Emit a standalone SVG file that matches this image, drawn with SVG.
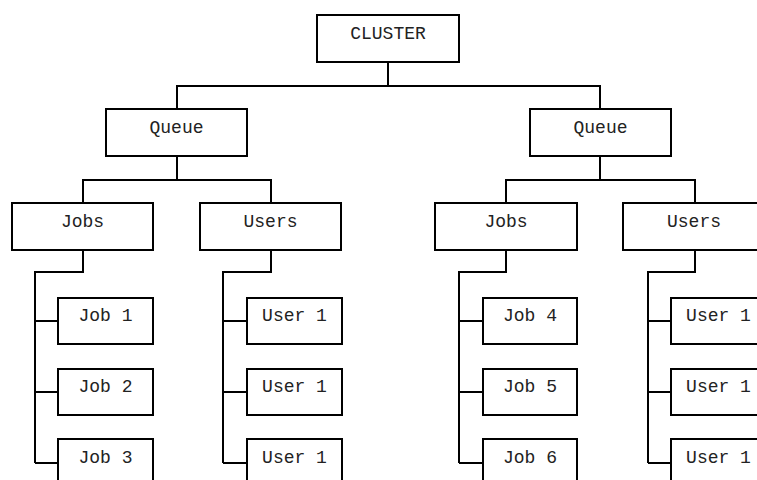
<svg xmlns="http://www.w3.org/2000/svg" width="757" height="480" viewBox="0 0 757 480">
  <style>
    .box { fill: #ffffff; stroke: #000000; stroke-width: 2; }
    .wire { fill: none; stroke: #000000; stroke-width: 2; }
    .lbl { font-family: "Liberation Mono", "Courier New", monospace; font-size: 18px; fill: #222222; text-anchor: middle; }
  </style>
  <rect width="757" height="480" fill="#ffffff"/>

  <g id="connectors">
    <!-- root to queues -->
    <path class="wire" d="M388,62 V86 M177,109 V86 H600 V109"/>
    <!-- left queue to Jobs/Users -->
    <path class="wire" d="M177,156 V180 M83,203 V180 H271 V203"/>
    <!-- right queue to Jobs/Users -->
    <path class="wire" d="M600,156 V180 M506,203 V180 H695 V203"/>
    <!-- left Jobs list -->
    <path class="wire" d="M83,250 V272 H35 V463 M35,321 H58 M35,392 H58 M35,463 H58"/>
    <!-- left Users list -->
    <path class="wire" d="M271,250 V272 H223 V463 M223,321 H247 M223,392 H247 M223,463 H247"/>
    <!-- right Jobs list -->
    <path class="wire" d="M506,250 V272 H459 V463 M459,321 H483 M459,392 H483 M459,463 H483"/>
    <!-- right Users list -->
    <path class="wire" d="M695,250 V272 H648 V463 M648,321 H671 M648,392 H671 M648,463 H671"/>
  </g>

  <g id="cluster"><rect class="box" x="317" y="15" width="142" height="47"/><text class="lbl" x="388" y="39">CLUSTER</text></g>

  <g id="queue-left"><rect class="box" x="106" y="109" width="141" height="47"/><text class="lbl" x="176.5" y="133">Queue</text></g>
  <g id="queue-right"><rect class="box" x="530" y="109" width="141" height="47"/><text class="lbl" x="600.5" y="133">Queue</text></g>

  <g id="jobs-left"><rect class="box" x="12" y="203" width="141" height="47"/><text class="lbl" x="82.5" y="227">Jobs</text></g>
  <g id="users-left"><rect class="box" x="200" y="203" width="141" height="47"/><text class="lbl" x="270.5" y="227">Users</text></g>
  <g id="jobs-right"><rect class="box" x="435" y="203" width="142" height="47"/><text class="lbl" x="506" y="227">Jobs</text></g>
  <g id="users-right"><rect class="box" x="623" y="203" width="142" height="47"/><text class="lbl" x="694" y="227">Users</text></g>

  <g id="job1"><rect class="box" x="58" y="298" width="95" height="46"/><text class="lbl" x="105.5" y="321">Job 1</text></g>
  <g id="job2"><rect class="box" x="58" y="369" width="95" height="46"/><text class="lbl" x="105.5" y="392">Job 2</text></g>
  <g id="job3"><rect class="box" x="58" y="439" width="95" height="46"/><text class="lbl" x="105.5" y="463">Job 3</text></g>

  <g id="user1-a"><rect class="box" x="247" y="298" width="95" height="46"/><text class="lbl" x="294.5" y="321">User 1</text></g>
  <g id="user1-b"><rect class="box" x="247" y="369" width="95" height="46"/><text class="lbl" x="294.5" y="392">User 1</text></g>
  <g id="user1-c"><rect class="box" x="247" y="439" width="95" height="46"/><text class="lbl" x="294.5" y="463">User 1</text></g>

  <g id="job4"><rect class="box" x="483" y="298" width="94" height="46"/><text class="lbl" x="530" y="321">Job 4</text></g>
  <g id="job5"><rect class="box" x="483" y="369" width="94" height="46"/><text class="lbl" x="530" y="392">Job 5</text></g>
  <g id="job6"><rect class="box" x="483" y="439" width="94" height="46"/><text class="lbl" x="530" y="463">Job 6</text></g>

  <g id="user1-d"><rect class="box" x="671" y="298" width="95" height="46"/><text class="lbl" x="718.5" y="321">User 1</text></g>
  <g id="user1-e"><rect class="box" x="671" y="369" width="95" height="46"/><text class="lbl" x="718.5" y="392">User 1</text></g>
  <g id="user1-f"><rect class="box" x="671" y="439" width="95" height="46"/><text class="lbl" x="718.5" y="463">User 1</text></g>
</svg>
